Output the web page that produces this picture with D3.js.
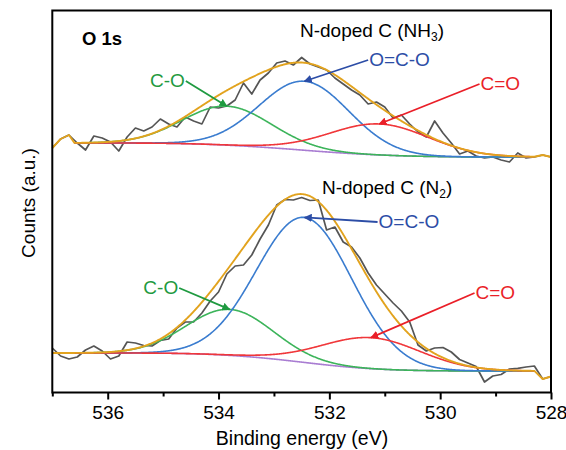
<!DOCTYPE html>
<html>
<head>
<meta charset="utf-8">
<script src="https://cdn.jsdelivr.net/npm/d3@7"></script>
<style>
  body { margin: 0; background: #fff; }
  text { font-family: Arial, "Liberation Sans", sans-serif; }
</style>
</head>
<body>
<svg width="566" height="450"></svg>
<script>
var svg = d3.select("svg");

// raw spectra, one point every 0.15 eV from 537.0 eV down to 528.0 eV
var eStart = 537.0, eStep = 0.15;
var topCounts = [245, 254, 258, 250, 243, 257, 255, 251, 242, 256, 265, 262, 266, 274, 269, 266,
  276, 272, 269, 286, 285, 287, 293, 310, 299, 313, 320, 330, 332, 328, 335.5, 329, 326, 323,
  315, 309, 303, 298, 289, 291, 286, 275, 278, 269, 261, 256, 272, 260, 250, 239, 242, 237,
  235, 236, 233, 231, 240, 235, 236, 238, 236];
var botCounts = [45, 37, 34, 36, 43, 47, 42, 34, 37, 51, 50, 47.5, 47, 52.5, 54, 65, 71, 71,
  80, 92, 101, 119, 127, 128, 138, 154, 168, 188, 193.5, 193, 195.5, 192.5, 193, 163, 166,
  151, 146, 135, 120, 108, 99, 90, 82, 71, 48, 42, 45, 45.5, 41, 33.5, 30, 26.5, 11, 17, 18.5,
  24, 24.7, 26, 27, 14, 16.5];

// fitted components: C-O, O=C-O, C=O
var peakNames = ["C-O", "O=C-O", "C=O"];
var topCenters = [533.85, 532.45, 531.1];
var topHeights = [39, 69, 31];
var topSigmas = [0.8, 0.81, 0.9];
var botCenters = [533.8, 532.45, 531.25];
var botHeights = [46, 145, 31];
var botSigmas = [0.78, 0.86, 0.9];

// Shirley background end values [high BE side, low BE side] and fit ranges
var topBg = [250, 236], botBg = [40, 22];
var topFit = [536.6, 528.3], botFit = [537.0, 528.3];

// label tails [energy, counts]
var topLabels = [[534.59, 312], [531.30, 333], [529.29, 309]];
var botLabels = [[534.71, 105], [531.13, 171], [529.38, 100]];

var xTicks = [536, 534, 532, 530, 528];
var xMinor = [537, 535, 533, 531, 529];

var compColors = ["#3cb45a", "#3a7ccf", "#f0373a"];
var labelColors = ["#1f9a40", "#2c4da6", "#ea1f28"];
var dataColor = "#555555", envColor = "#e2a31e", bgColor = "#a97dd2";

var mLeft = 52.3, mRight = 551, mTop = 10.5, mBottom = 392.5;
var x = d3.scaleLinear().domain([537, 528]).range([mLeft, mRight]);
var y = d3.scaleLinear().domain([0, 382]).range([393, 11]);

var line = d3.line().x(function(d){ return x(d[0]); }).y(function(d){ return y(d[1]); });

function gauss(e, c, h, s) { return h * Math.exp(-(e - c) * (e - c) / (2 * s * s)); }

// arrow heads
var defs = svg.append("defs");
labelColors.forEach(function(c, i){
  defs.append("marker")
    .attr("id", "arr" + i)
    .attr("viewBox", "0 0 10 10")
    .attr("refX", 9).attr("refY", 5)
    .attr("markerWidth", 4.5).attr("markerHeight", 4.5)
    .attr("markerUnits", "strokeWidth")
    .attr("orient", "auto")
  .append("path")
    .attr("d", "M0,0 L10,5 L0,10 z")
    .attr("fill", c);
});

var plot = svg.append("g");

function drawPanel(counts, centers, heights, sigmas, bg, fit, labels) {
  var raw = counts.map(function(c, i){ return [eStart - i * eStep, c]; });

  // fine grid from low to high BE for the fit
  var es = d3.range(Math.round(fit[1] * 100), Math.round(fit[0] * 100) + 1).map(function(v){ return v / 100; });
  var comps = centers.map(function(c, i){
    return es.map(function(e){ return gauss(e, c, heights[i], sigmas[i]); });
  });
  var sums = es.map(function(e, j){ return d3.sum(comps, function(cp){ return cp[j]; }); });
  var cum = Array.from(d3.cumsum(sums));
  var total = cum[cum.length - 1];
  var base = cum.map(function(a){ return bg[1] + (bg[0] - bg[1]) * a / total; });

  // raw data
  plot.append("path")
    .attr("d", line(raw))
    .attr("fill", "none")
    .attr("stroke", dataColor)
    .attr("stroke-width", 1.7)
    .attr("stroke-linejoin", "round");

  // background
  plot.append("path")
    .attr("d", line(es.map(function(e, j){ return [e, base[j]]; })))
    .attr("fill", "none").attr("stroke", bgColor).attr("stroke-width", 1.6);

  // components
  comps.forEach(function(cp, i){
    plot.append("path")
      .attr("d", line(es.map(function(e, j){ return [e, base[j] + cp[j]]; })))
      .attr("fill", "none").attr("stroke", compColors[i]).attr("stroke-width", 1.6);
  });

  // envelope, raw data outside the fit window
  var env = raw.filter(function(d){ return d[0] > fit[0] + 1e-6; })
    .concat(es.map(function(e, j){ return [e, base[j] + sums[j]]; }).reverse())
    .concat(raw.filter(function(d){ return d[0] < fit[1] - 1e-6; }));
  plot.append("path")
    .attr("d", line(env))
    .attr("fill", "none").attr("stroke", envColor).attr("stroke-width", 1.9)
    .attr("stroke-linejoin", "round");

  // labels and arrows
  labels.forEach(function(l, i){
    var j = Math.round((centers[i] - fit[1]) * 100);
    var tipE = centers[i], tipC = base[j] + comps[i][j];
    plot.append("line")
      .attr("x1", x(l[0])).attr("y1", y(l[1]))
      .attr("x2", x(tipE)).attr("y2", y(tipC))
      .attr("stroke", labelColors[i]).attr("stroke-width", 1.8)
      .attr("marker-end", "url(#arr" + i + ")");
    plot.append("text")
      .attr("x", i === 0 ? x(l[0]) - 1 : x(l[0]) + 1)
      .attr("y", y(l[1]) + 6)
      .attr("text-anchor", i === 0 ? "end" : "start")
      .attr("font-size", 19)
      .attr("fill", labelColors[i])
      .text(peakNames[i]);
  });
}

drawPanel(topCounts, topCenters, topHeights, topSigmas, topBg, topFit, topLabels);
drawPanel(botCounts, botCenters, botHeights, botSigmas, botBg, botFit, botLabels);

// frame
svg.append("rect")
  .attr("x", mLeft).attr("y", mTop)
  .attr("width", mRight - mLeft).attr("height", mBottom - mTop)
  .attr("fill", "none").attr("stroke", "#000").attr("stroke-width", 2);

// x axis
var ax = svg.append("g").attr("transform", "translate(0," + mBottom + ")");
ax.append("g").call(d3.axisBottom(x).tickValues(xMinor).tickSize(4).tickFormat(""));
ax.append("g").call(d3.axisBottom(x).tickValues(xTicks).tickSize(7).tickPadding(6).tickFormat(d3.format("d")));
ax.selectAll(".domain").remove();
ax.selectAll(".tick line").attr("stroke-width", 2);
ax.selectAll("text").attr("font-size", 19).attr("font-family", "Arial, 'Liberation Sans', sans-serif").attr("fill", "#000");

svg.append("text")
  .attr("x", 302).attr("y", 445)
  .attr("text-anchor", "middle").attr("font-size", 19.5)
  .text("Binding energy (eV)");

svg.append("text")
  .attr("transform", "translate(35,203) rotate(-90)")
  .attr("text-anchor", "middle").attr("font-size", 19)
  .text("Counts (a.u.)");

svg.append("text")
  .attr("x", 82).attr("y", 45)
  .attr("font-size", 18.5).attr("font-weight", "bold")
  .text("O 1s");

var t1 = svg.append("text").attr("x", 300).attr("y", 37).attr("font-size", 19);
t1.append("tspan").text("N-doped C (NH");
t1.append("tspan").attr("font-size", 12).attr("dy", 4).text("3");
t1.append("tspan").attr("dy", -4).text(")");

var t2 = svg.append("text").attr("x", 322).attr("y", 194).attr("font-size", 19);
t2.append("tspan").text("N-doped C (N");
t2.append("tspan").attr("font-size", 12).attr("dy", 4).text("2");
t2.append("tspan").attr("dy", -4).text(")");
</script>
</body>
</html>
